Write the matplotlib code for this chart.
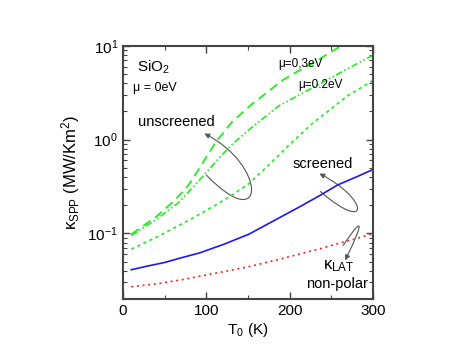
import numpy as np
import matplotlib
matplotlib.use("Agg")
import matplotlib.pyplot as plt
from matplotlib.path import Path
from matplotlib.patches import FancyArrowPatch

plt.rcParams['font.family'] = ['Liberation Sans', 'DejaVu Sans']
plt.rcParams['mathtext.fontset'] = 'custom'
plt.rcParams['mathtext.rm'] = 'Liberation Sans'
plt.rcParams['mathtext.it'] = 'Liberation Sans:italic'

# values (T in K, kappa in MW/Km^2)
T_unscr_03 = [10, 24, 40, 63, 79, 92, 111, 131, 155, 175, 191, 210, 227, 245, 262, 270]
k_unscr_03 = [0.098, 0.12, 0.151, 0.229, 0.33, 0.50, 0.93, 1.55, 2.4, 3.3, 4.27,
              5.37, 6.46, 8.13, 10.0, 10.8]

T_unscr_02 = [10, 40, 67, 92, 115, 131, 155, 187, 210, 227, 250, 266, 300]
k_unscr_02 = [0.095, 0.141, 0.214, 0.372, 0.631, 0.891, 1.36, 2.29, 2.95, 3.55,
              4.57, 5.5, 7.94]

T_unscr_lo = [10, 40, 79, 111, 131, 151, 175, 199, 227, 250, 270, 300]
k_unscr_lo = [0.068, 0.091, 0.138, 0.2, 0.257, 0.339, 0.537, 0.871, 1.48, 2.14,
              2.95, 4.27]

T_screened = [10, 30, 50, 70, 92, 120, 151, 180, 211, 235, 258, 280, 300]
k_screened = [0.041, 0.045, 0.049, 0.055, 0.062, 0.076, 0.098, 0.135, 0.19, 0.25,
              0.33, 0.40, 0.48]

T_lat = [10, 40, 70, 92, 120, 150, 180, 211, 240, 258, 280, 300]
k_lat = [0.027, 0.029, 0.032, 0.035, 0.039, 0.044, 0.051, 0.060, 0.070, 0.078,
         0.088, 0.10]

fig = plt.figure(figsize=(4.57, 3.53), dpi=100)
ax = fig.add_axes([0.269, 0.153, 0.547, 0.717])

green = '#22ee22'
ax.plot(T_unscr_03, k_unscr_03, color=green, lw=1.3, dashes=(5, 3))
ax.plot(T_unscr_02, k_unscr_02, color=green, lw=1.2, dashes=(4, 1.5, 1, 1.5, 1, 1.5))
ax.plot(T_unscr_lo, k_unscr_lo, color=green, lw=1.2, dashes=(2, 2))
ax.plot(T_screened, k_screened, color='#1a1aee', lw=1.2)
ax.plot(T_lat, k_lat, color='#ff2222', lw=1.2, dashes=(1.2, 2.2))

ax.set_yscale('log')
ax.set_xlim(0, 300)
ax.set_ylim(0.02, 10)
ax.set_xticks([0, 100, 200, 300])
ax.set_xticks([50, 150, 250], minor=True)
ax.tick_params(which='both', direction='in', top=True, right=True,
               labelsize=11, color='#444444')
ax.tick_params(which='major', length=5, width=1)
ax.tick_params(which='minor', length=3, width=0.8)
for s in ax.spines.values():
    s.set_linewidth(1.5)
    s.set_color('#444444')

ax.set_xlabel(r'T$_0$ (K)', fontsize=11, labelpad=2)
ax.set_ylabel('κ$_{\\rm SPP}$ (MW/Km$^2$)', fontsize=12, labelpad=4)

# text labels
ax.text(0.056, 0.90, r'SiO$_2$', transform=ax.transAxes, fontsize=11)
ax.text(0.04, 0.834, 'μ = 0eV', transform=ax.transAxes, fontsize=9, va='center')
ax.text(0.06, 0.70, 'unscreened', transform=ax.transAxes, fontsize=10.5, va='center')
ax.text(0.62, 0.929, 'μ=0,3eV', transform=ax.transAxes, fontsize=8.5, va='center')
ax.text(0.70, 0.846, 'μ=0.2eV', transform=ax.transAxes, fontsize=8.5, va='center')
ax.text(0.68, 0.534, 'screened', transform=ax.transAxes, fontsize=10.5, va='center')
ax.text(0.80, 0.13, 'κ$_{\\rm LAT}$', transform=ax.transAxes, fontsize=12, va='center')
ax.text(0.98, 0.059, 'non-polar', transform=ax.transAxes, fontsize=10.5, va='center', ha='right')

# loop arrows pointing at the curve groups
loops = [
    [(100, 0.42), (172.6, 0.0907), (172.6, 0.542), (97.6, 1.16)],
    [(236.9, 0.280), (296.4, 0.0976), (296.4, 0.230), (235.7, 0.435)],
    [(264.3, 0.0745), (289.3, 0.159), (289.3, 0.134), (266.7, 0.0517)],
]
for pts in loops:
    p = Path(pts, [Path.MOVETO, Path.CURVE4, Path.CURVE4, Path.CURVE4])
    arr = FancyArrowPatch(path=p, arrowstyle='-|>,head_length=3,head_width=1.5',
                          color='#555555', lw=0.8, transform=ax.transData)
    ax.add_patch(arr)

fig.savefig('out.png', dpi=100)
